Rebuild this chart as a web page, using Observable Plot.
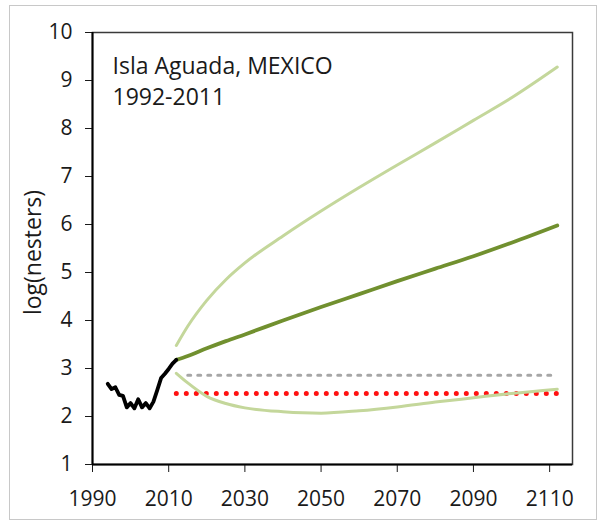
<!DOCTYPE html>
<html>
<head>
<meta charset="utf-8">
<script src="https://cdn.jsdelivr.net/npm/d3@7"></script>
<script src="https://cdn.jsdelivr.net/npm/@observablehq/plot@0.6"></script>
<style>
  html, body { margin: 0; padding: 0; background: #fff; }
  #wrap { position: relative; width: 600px; height: 527px; }
  #border { position: absolute; left: 9px; top: 5px; width: 588px; height: 515px;
            border: 1.5px solid #c8c8c8; pointer-events: none; box-sizing: border-box; }
  #wrap svg [aria-label$="tick label"], #wrap svg [aria-label$="tick label"] text { font-size: 21px; }
</style>
</head>
<body>
<div id="wrap"><div id="border"></div></div>
<script>
// Observed data (log nesters)
const obsYears = [1994,1995,1996,1997,1998,1999,2000,2001,2002,2003,2004,2005,2006,2007,2008,2009,2010,2011,2012];
const obsVals  = [2.68,2.57,2.61,2.45,2.43,2.19,2.28,2.17,2.36,2.19,2.28,2.17,2.31,2.55,2.80,2.89,2.99,3.10,3.18];

// Projections
const projYears = [2012,2015,2020,2025,2030,2040,2050,2060,2070,2080,2090,2100,2112];
const upperVals  = [3.48,3.88,4.42,4.85,5.20,5.76,6.28,6.77,7.24,7.70,8.17,8.64,9.28];
const medianVals = [3.18,3.26,3.42,3.57,3.71,4.00,4.28,4.55,4.82,5.08,5.34,5.62,5.98];
const lowerVals  = [2.90,2.70,2.42,2.27,2.18,2.10,2.07,2.12,2.20,2.30,2.39,2.48,2.57];

// Reference levels
const redLevelYears = [2012, 2112];
const redLevel = 2.48;
const grayLevelYears = [2015, 2112];
const grayLevel = 2.86;

const xTicks = [1990,2010,2030,2050,2070,2090,2110];
const yTicks = [1,2,3,4,5,6,7,8,9,10];
const titleLines = ["Isla Aguada, MEXICO", "1992-2011"];
const yLabel = "log(nesters)";

const obs = obsYears.map((x, i) => ({x, y: obsVals[i]}));
const upper = projYears.map((x, i) => ({x, y: upperVals[i]}));
const median = projYears.map((x, i) => ({x, y: medianVals[i]}));
const lower = projYears.map((x, i) => ({x, y: lowerVals[i]}));
const red = redLevelYears.map(x => ({x, y: redLevel}));
const gray = grayLevelYears.map(x => ({x, y: grayLevel}));

const chart = Plot.plot({
  width: 600,
  height: 527,
  marginLeft: 92,
  marginRight: 28,
  marginTop: 32,
  marginBottom: 63,
  style: {fontFamily: "'Open Sans', sans-serif", fontSize: "21px", color: "#1a1a1a", background: "transparent"},
  x: {domain: [1990, 2116], ticks: xTicks, tickFormat: d => String(d), tickSize: 8, tickPadding: 19, label: null},
  y: {domain: [1, 10], ticks: yTicks, tickSize: 7, tickPadding: 13, label: null},
  marks: [
    Plot.frame({stroke: "#3a3a3a", strokeWidth: 1.5}),
    Plot.ruleX([1990], {stroke: "#000", strokeWidth: 2}),
    Plot.ruleY([1], {stroke: "#000", strokeWidth: 2}),
    Plot.line(gray, {x: "x", y: "y", stroke: "#a6a6a6", strokeWidth: 3, strokeDasharray: "3,7"}),
    Plot.line(red, {x: "x", y: "y", stroke: "#ff1111", strokeWidth: 5, strokeDasharray: "0,10", strokeLinecap: "round"}),
    Plot.line(upper, {x: "x", y: "y", stroke: "#c4d79b", strokeWidth: 3, curve: "monotone-x"}),
    Plot.line(lower, {x: "x", y: "y", stroke: "#c4d79b", strokeWidth: 3, curve: "monotone-x"}),
    Plot.line(median, {x: "x", y: "y", stroke: "#71902f", strokeWidth: 3.8, curve: "monotone-x"}),
    Plot.line(obs, {x: "x", y: "y", stroke: "#000", strokeWidth: 3.8, strokeLinejoin: "round"}),
    Plot.text([titleLines.join("\n")], {frameAnchor: "top-left", dx: 20, dy: 19, text: d => d,
      fontSize: 23, lineHeight: 1.36, textAnchor: "start", lineAnchor: "top", fill: "#1a1a1a"}),
    Plot.text([yLabel], {frameAnchor: "left", dx: -59, dy: 4, text: d => d, rotate: -90,
      textAnchor: "middle", fontSize: 23, fill: "#1a1a1a"})
  ]
});
document.getElementById("wrap").prepend(chart);
</script>
</body>
</html>
